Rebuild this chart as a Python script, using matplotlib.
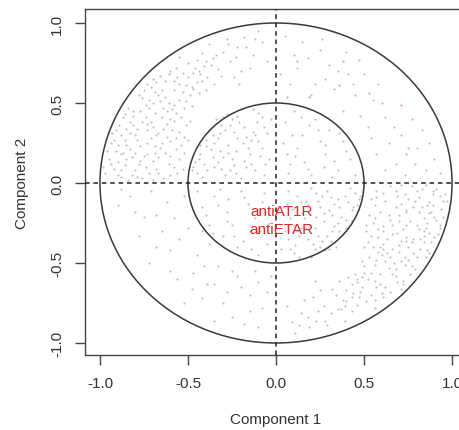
import matplotlib
matplotlib.use("Agg")
import matplotlib.pyplot as plt
from matplotlib.patches import Circle
import numpy as np

plt.rcParams['font.family'] = ['Liberation Sans', 'DejaVu Sans']

# variable correlations, by region
upper_left_outer = [
(-0.62,0.45),(-0.71,0.38),(-0.55,0.52),(-0.83,0.31),(-0.66,0.22),(-0.78,0.12),(-0.59,0.33),(-0.88,0.18),(-0.74,0.49),(-0.51,0.61),
(-0.69,0.57),(-0.92,0.09),(-0.57,0.21),(-0.81,0.42),(-0.63,0.64),(-0.47,0.69),(-0.86,0.27),(-0.72,0.06),(-0.54,0.41),(-0.67,0.31),
(-0.77,0.23),(-0.61,0.12),(-0.89,0.36),(-0.58,0.58),(-0.44,0.56),(-0.73,0.62),(-0.82,0.05),(-0.64,0.03),(-0.52,0.29),(-0.95,0.15),
(-0.69,0.44),(-0.79,0.34),(-0.56,0.66),(-0.41,0.73),(-0.84,0.47),(-0.66,0.51),(-0.75,0.17),(-0.60,0.26),(-0.90,0.24),(-0.53,0.09),
(-0.70,0.14),(-0.86,0.11),(-0.62,0.37),(-0.48,0.48),(-0.78,0.55),(-0.36,0.78),(-0.57,0.72),(-0.80,0.19),(-0.68,0.09),(-0.93,0.31),
(-0.74,0.41),(-0.63,0.19),(-0.51,0.36),(-0.87,0.41),(-0.59,0.46),(-0.71,0.28),(-0.45,0.63),(-0.83,0.21),(-0.65,0.58),(-0.76,0.03),
(-0.55,0.15),(-0.97,0.06),(-0.72,0.52),(-0.61,0.68),(-0.39,0.66),(-0.81,0.36),(-0.67,0.16),(-0.54,0.24),(-0.88,0.04),(-0.70,0.35),
(-0.58,0.39),(-0.77,0.45),(-0.49,0.55),(-0.64,0.47),(-0.85,0.15),(-0.73,0.25),(-0.60,0.05),(-0.52,0.47),(-0.91,0.20),(-0.68,0.63),
(-0.30,0.82),(-0.22,0.85),(-0.42,0.81),(-0.33,0.71),(-0.26,0.76),(-0.50,0.75),(-0.18,0.91),(-0.13,0.80),(-0.38,0.87),(-0.28,0.90),
(-0.45,0.77),(-0.08,0.88),(-0.20,0.70),(-0.35,0.62),(-0.15,0.72),(-0.55,0.79),(-0.10,0.95),(-0.24,0.66),(-0.40,0.58),(-0.05,0.76),
(-0.65,0.41),(-0.73,0.33),(-0.58,0.49),(-0.85,0.24),(-0.69,0.19),(-0.80,0.08),(-0.62,0.29),(-0.90,0.13),(-0.76,0.53),(-0.53,0.57),
(-0.71,0.60),(-0.94,0.12),(-0.60,0.17),(-0.83,0.38),(-0.66,0.67),(-0.50,0.66),(-0.88,0.30),(-0.74,0.10),(-0.57,0.44),(-0.64,0.34),
(-0.79,0.27),(-0.58,0.10),(-0.91,0.33),(-0.55,0.62),(-0.47,0.59),(-0.70,0.65),(-0.84,0.02),(-0.67,0.06),(-0.55,0.32),(-0.96,0.20),
(-0.72,0.47),(-0.81,0.45),(-0.53,0.69),(-0.44,0.70),(-0.86,0.43),(-0.63,0.54),(-0.77,0.14),(-0.57,0.28),(-0.92,0.27),(-0.56,0.06),
(-0.73,0.18),(-0.88,0.08),(-0.60,0.40),(-0.51,0.51),(-0.75,0.58),(-0.40,0.76),(-0.60,0.70),(-0.82,0.16),(-0.70,0.02),(-0.94,0.25),
(-0.76,0.38),(-0.65,0.25),(-0.49,0.39),(-0.85,0.34),(-0.61,0.50),(-0.68,0.30),(-0.48,0.60),(-0.87,0.19),(-0.67,0.55),(-0.79,0.04),
(-0.52,0.19),(-0.98,0.10),(-0.70,0.50),(-0.58,0.64),(-0.43,0.68),(-0.80,0.30),(-0.69,0.23),(-0.50,0.27),(-0.90,0.05),(-0.73,0.37),
(-0.27,0.87),(-0.34,0.80),(-0.46,0.72),(-0.31,0.67),(-0.23,0.79),(-0.17,0.85),(-0.12,0.90),(-0.37,0.74),(-0.42,0.64),(-0.21,0.62),
]
upper_right_outer = [
(0.12,0.72),(0.25,0.83),(0.41,0.68),(0.55,0.52),(0.08,0.62),(0.33,0.59),(0.62,0.41),(0.71,0.30),(0.47,0.77),(0.20,0.55),
(0.58,0.62),(0.80,0.22),(0.68,0.12),(0.85,0.08),(0.38,0.45),(0.15,0.88),(0.52,0.35),(0.77,0.40),(0.30,0.74),(0.05,0.92),
(0.64,0.25),(0.45,0.55),(0.90,0.15),(0.57,0.18),(0.73,0.05),(0.28,0.65),(0.18,0.78),(0.50,0.68),(0.83,0.33),(0.62,0.08),
(0.10,0.80),(0.22,0.62),(0.35,0.70),(0.44,0.62),(0.60,0.50),(0.67,0.35),(0.75,0.22),(0.87,0.25),(0.93,0.06),(0.54,0.28),
(0.48,0.42),(0.26,0.90),(0.40,0.82),(0.02,0.68),(0.79,0.12),
]
lower_left_outer = [
(-0.62,-0.12),(-0.75,-0.21),(-0.55,-0.35),(-0.41,-0.52),(-0.68,-0.40),(-0.83,-0.08),(-0.35,-0.63),(-0.48,-0.66),(-0.22,-0.58),(-0.30,-0.75),
(-0.58,-0.22),(-0.71,-0.05),(-0.15,-0.70),(-0.45,-0.45),(-0.90,-0.14),(-0.25,-0.84),(-0.60,-0.55),(-0.10,-0.62),(-0.38,-0.38),(-0.52,-0.08),
(-0.18,-0.88),(-0.65,-0.30),(-0.08,-0.78),(-0.78,-0.33),(-0.33,-0.52),(-0.05,-0.68),(-0.20,-0.65),(-0.12,-0.55),(-0.42,-0.72),(-0.56,-0.60),
(-0.68,-0.20),(-0.80,-0.18),(-0.50,-0.28),(-0.47,-0.56),(-0.28,-0.68),(-0.15,-0.80),(-0.03,-0.58),(-0.60,-0.42),(-0.72,-0.50),(-0.88,-0.04),
(-0.52,-0.75),(-0.35,-0.86),(-0.10,-0.90),(-0.42,-0.30),(-0.25,-0.55),
]
lower_right_outer = [
(0.63,-0.44),(0.70,-0.39),(0.56,-0.51),(0.84,-0.30),(0.65,-0.23),(0.79,-0.11),(0.58,-0.34),(0.87,-0.19),(0.75,-0.48),(0.52,-0.60),
(0.68,-0.58),(0.93,-0.08),(0.56,-0.22),(0.82,-0.41),(0.62,-0.65),(0.48,-0.68),(0.85,-0.28),(0.73,-0.07),(0.55,-0.40),(0.66,-0.32),
(0.76,-0.24),(0.62,-0.11),(0.88,-0.37),(0.59,-0.57),(0.45,-0.57),(0.72,-0.63),(0.83,-0.04),(0.65,-0.02),(0.51,-0.30),(0.94,-0.16),
(0.70,-0.43),(0.78,-0.35),(0.57,-0.65),(0.40,-0.74),(0.85,-0.46),(0.67,-0.50),(0.74,-0.18),(0.61,-0.27),(0.91,-0.23),(0.54,-0.10),
(0.71,-0.13),(0.87,-0.12),(0.61,-0.38),(0.49,-0.49),(0.79,-0.54),(0.37,-0.79),(0.56,-0.73),(0.81,-0.18),(0.69,-0.08),(0.92,-0.32),
(0.75,-0.40),(0.64,-0.20),(0.52,-0.37),(0.86,-0.42),(0.60,-0.45),(0.72,-0.29),(0.46,-0.62),(0.84,-0.22),(0.66,-0.57),(0.77,-0.02),
(0.56,-0.14),(0.96,-0.07),(0.73,-0.51),(0.60,-0.69),(0.40,-0.67),(0.82,-0.35),(0.68,-0.15),(0.55,-0.25),(0.89,-0.05),(0.71,-0.36),
(0.59,-0.40),(0.78,-0.44),(0.50,-0.56),(0.65,-0.46),(0.86,-0.14),(0.74,-0.26),(0.61,-0.06),(0.53,-0.46),(0.90,-0.21),(0.69,-0.62),
(0.31,-0.81),(0.23,-0.86),(0.43,-0.80),(0.34,-0.70),(0.27,-0.77),(0.51,-0.74),(0.19,-0.90),(0.14,-0.81),(0.39,-0.86),(0.29,-0.89),
(0.46,-0.76),(0.09,-0.87),(0.21,-0.71),(0.36,-0.61),(0.16,-0.73),(0.56,-0.78),(0.11,-0.94),(0.25,-0.67),(0.41,-0.59),(0.06,-0.77),
(0.66,-0.41),(0.74,-0.34),(0.57,-0.48),(0.86,-0.25),(0.70,-0.20),(0.81,-0.09),(0.61,-0.30),(0.89,-0.14),(0.77,-0.52),(0.54,-0.56),
(0.72,-0.61),(0.95,-0.11),(0.59,-0.18),(0.84,-0.37),(0.65,-0.68),(0.49,-0.65),(0.87,-0.31),(0.75,-0.10),(0.58,-0.43),(0.63,-0.35),
(0.80,-0.26),(0.57,-0.09),(0.90,-0.34),(0.56,-0.61),(0.46,-0.60),(0.71,-0.66),(0.85,-0.01),(0.68,-0.05),(0.54,-0.33),(0.95,-0.21),
(0.73,-0.46),(0.80,-0.46),(0.54,-0.70),(0.43,-0.71),(0.87,-0.44),(0.64,-0.53),(0.78,-0.15),(0.58,-0.29),(0.93,-0.26),(0.57,-0.05),
(0.74,-0.17),(0.89,-0.07),(0.61,-0.41),(0.50,-0.52),(0.76,-0.57),(0.39,-0.77),(0.61,-0.71),(0.83,-0.15),(0.71,-0.01),(0.93,-0.28),
(0.77,-0.37),(0.66,-0.26),(0.50,-0.40),(0.84,-0.33),(0.62,-0.49),(0.69,-0.31),(0.49,-0.59),(0.88,-0.18),(0.68,-0.54),(0.80,-0.05),
(0.53,-0.20),(0.97,-0.11),(0.71,-0.49),(0.59,-0.63),(0.44,-0.69),(0.81,-0.29),(0.70,-0.24),(0.51,-0.26),(0.91,-0.04),(0.74,-0.36),
(0.28,-0.86),(0.35,-0.79),(0.47,-0.71),(0.32,-0.66),(0.24,-0.80),(0.18,-0.84),(0.13,-0.89),(0.38,-0.73),(0.43,-0.63),(0.22,-0.61),
]
inner_upper_left = [
(-0.12,0.08),(-0.25,0.15),(-0.33,0.28),(-0.41,0.12),(-0.18,0.35),(-0.08,0.22),(-0.29,0.05),(-0.37,0.21),(-0.22,0.42),(-0.45,0.06),
(-0.15,0.18),(-0.31,0.36),(-0.05,0.31),(-0.27,0.24),(-0.40,0.27),(-0.10,0.44),(-0.20,0.03),(-0.35,0.10),(-0.14,0.27),(-0.43,0.18),
(-0.24,0.32),(-0.06,0.12),(-0.30,0.16),(-0.17,0.10),(-0.38,0.33),(-0.11,0.38),(-0.26,0.08),(-0.46,0.13),(-0.19,0.25),(-0.34,0.40),
(-0.03,0.40),(-0.09,0.17),(-0.23,0.20),(-0.42,0.04),(-0.28,0.43),(-0.13,0.32),(-0.36,0.16),(-0.07,0.05),(-0.32,0.31),(-0.20,0.46),
(-0.14,0.12),(-0.27,0.19),(-0.35,0.25),(-0.39,0.08),(-0.21,0.38),(-0.10,0.26),(-0.31,0.09),(-0.40,0.23),(-0.25,0.40),(-0.47,0.10),
(-0.16,0.22),(-0.29,0.33),(-0.07,0.35),(-0.22,0.28),(-0.43,0.24),(-0.13,0.46),(-0.23,0.06),(-0.33,0.13),(-0.12,0.30),(-0.44,0.15),
(-0.26,0.36),(-0.04,0.15),(-0.32,0.20),(-0.18,0.14),(-0.36,0.30),(-0.08,0.41),(-0.24,0.11),(-0.48,0.08),(-0.17,0.29),(-0.30,0.41),
]
inner_lower_right = [
(0.12,-0.08),(0.25,-0.15),(0.33,-0.27),(0.41,-0.12),(0.18,-0.35),(0.08,-0.22),(0.29,-0.05),(0.37,-0.21),(0.22,-0.41),(0.45,-0.06),
(0.15,-0.19),(0.31,-0.36),(0.05,-0.30),(0.27,-0.24),(0.40,-0.28),(0.10,-0.44),(0.20,-0.03),(0.35,-0.10),(0.14,-0.28),(0.43,-0.17),
(0.24,-0.33),(0.06,-0.13),(0.30,-0.17),(0.17,-0.11),(0.38,-0.32),(0.11,-0.39),(0.26,-0.08),(0.46,-0.14),(0.19,-0.26),(0.34,-0.40),
(0.03,-0.41),(0.09,-0.16),(0.23,-0.21),(0.42,-0.03),(0.28,-0.42),(0.13,-0.33),(0.36,-0.15),(0.07,-0.05),(0.32,-0.30),(0.20,-0.46),
(0.14,-0.12),(0.27,-0.19),(0.35,-0.25),(0.39,-0.08),(0.21,-0.38),(0.10,-0.26),(0.31,-0.09),(0.40,-0.23),(0.25,-0.40),(0.47,-0.10),
(0.16,-0.22),(0.29,-0.33),(0.07,-0.35),(0.22,-0.28),(0.43,-0.24),(0.13,-0.46),(0.23,-0.06),(0.33,-0.13),(0.12,-0.30),(0.44,-0.15),
(0.26,-0.36),(0.04,-0.15),(0.32,-0.20),(0.18,-0.14),(0.36,-0.30),(0.08,-0.41),(0.24,-0.11),(0.48,-0.08),(0.17,-0.29),(0.30,-0.41),
]
inner_upper_right = [
(0.08,0.12),(0.15,0.30),(0.28,0.18),(0.05,0.38),(0.35,0.08),(0.20,0.05),(0.12,0.22),(0.30,0.33),(0.42,0.15),(0.22,0.40),
(0.10,0.45),(0.38,0.26),(0.04,0.25),(0.25,0.26),(0.16,0.13),(0.45,0.05),(0.32,0.04),(0.07,0.06),(0.19,0.36),(0.27,0.10),
(0.11,0.17),(0.24,0.33),(0.33,0.14),(0.09,0.30),(0.40,0.20),(0.18,0.09),(0.14,0.41),(0.36,0.31),(0.06,0.18),(0.28,0.24),
]
inner_lower_left = [
(-0.08,-0.12),(-0.15,-0.30),(-0.28,-0.18),(-0.05,-0.38),(-0.35,-0.08),(-0.20,-0.05),(-0.12,-0.22),(-0.30,-0.33),(-0.42,-0.15),(-0.22,-0.40),
(-0.10,-0.45),(-0.38,-0.26),(-0.04,-0.25),(-0.25,-0.26),(-0.16,-0.13),(-0.45,-0.05),(-0.32,-0.04),(-0.07,-0.06),(-0.19,-0.36),(-0.27,-0.10),
(-0.11,-0.17),(-0.24,-0.33),(-0.33,-0.14),(-0.09,-0.30),(-0.40,-0.20),(-0.18,-0.09),(-0.14,-0.41),(-0.36,-0.31),(-0.06,-0.18),(-0.28,-0.24),
]
red_points = [
(0.12,0.76),(0.38,0.76),(0.36,0.61),(0.19,0.54),(0.06,0.54),(0.53,0.56),(0.71,0.49),(0.74,0.18),(-0.39,-0.63),
]
label_names = ["antiAT1R", "antiETAR"]
label_x = [0.03, 0.03]
label_y = [-0.175, -0.29]

radii = [1.0, 0.5]
xticks = [-1.0, -0.5, 0.0, 0.5, 1.0]
yticks = [-1.0, -0.5, 0.0, 0.5, 1.0]

gray_pts = (upper_left_outer + upper_right_outer + lower_left_outer + lower_right_outer
            + inner_upper_left + inner_lower_right + inner_upper_right + inner_lower_left)
gx = np.array([p[0] for p in gray_pts])
gy = np.array([p[1] for p in gray_pts])
rx = np.array([p[0] for p in red_points])
ry = np.array([p[1] for p in red_points])

fig = plt.figure(figsize=(4.6, 4.31), dpi=100)
ax = fig.add_axes([85/460, 1-356/431, (467-85)/460, (356-10)/431])
ax.set_xlim(-1.085, 1.085)
ax.set_ylim(-1.075, 1.0875)

ax.plot(gx, gy, 'o', ms=1.5, mec='none', mfc='#bdbdbd', zorder=1)
ax.plot(rx, ry, 'o', ms=1.6, mec='none', mfc='#e7a0a0', zorder=1)

for r in radii:
    ax.add_patch(Circle((0, 0), r, fill=False, ec='#3a3a3a', lw=1.1, zorder=2))
ax.axhline(0, color='#222222', lw=1.1, dashes=(3, 2.5), zorder=3)
ax.axvline(0, color='#222222', lw=1.1, dashes=(3, 2.5), zorder=3)

for n, x, y in zip(label_names, label_x, label_y):
    ax.text(x, y, n, color='#e02828', fontsize=11, ha='center', va='center', zorder=4)

ax.set_xticks(xticks)
ax.set_yticks(yticks)
ax.set_xticklabels([f"{t:.1f}" for t in xticks])
ax.set_yticklabels([f"{t:.1f}" for t in yticks], rotation=90, va='center')
ax.tick_params(axis='both', direction='out', length=7, width=1, color='#444444',
               labelcolor='#333333', labelsize=11, pad=8)
for s in ax.spines.values():
    s.set_color('#444444')
    s.set_linewidth(1.0)

ax.set_xlabel("Component 1", fontsize=11, color='#333333', labelpad=16)
ax.set_ylabel("Component 2", fontsize=11, color='#333333', labelpad=15)

fig.savefig("out.png", dpi=100)
